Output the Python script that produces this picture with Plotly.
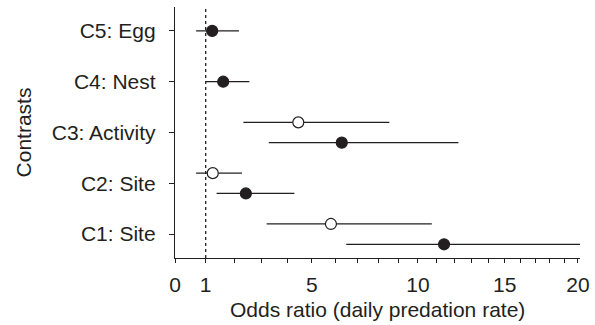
import numpy as np
import plotly.graph_objects as go

categories = ["C1: Site", "C2: Site", "C3: Activity", "C4: Nest", "C5: Egg"]
cat_pos = [1, 2, 3, 4, 5]

# filled (lower) series
filled_cat = ["C1: Site", "C2: Site", "C3: Activity", "C4: Nest", "C5: Egg"]
filled_or = [11.41, 2.41, 6.30, 1.60, 1.22]
filled_lo = [6.50, 1.37, 3.27, 1.00, 0.68]
filled_hi = [20.15, 4.28, 12.22, 2.54, 2.16]
filled_off = [-0.2, -0.2, -0.2, 0.0, 0.0]

# open (upper) series
open_cat = ["C1: Site", "C2: Site", "C3: Activity"]
open_or = [5.82, 1.24, 4.44]
open_lo = [3.19, 0.68, 2.32]
open_hi = [10.74, 2.27, 8.54]
open_off = [0.2, 0.2, 0.2]

x_ticks = list(range(0, 21))
x_tick_labels = {0: "0", 1: "1", 5: "5", 10: "10", 15: "15", 20: "20"}

C = 15.0
def tr(v):
    return np.log10(np.asarray(v, dtype=float) + C)

pos = dict(zip(categories, cat_pos))
FONT = "Liberation Sans, Arial, sans-serif"
INK = "#231f20"
FS = 21

fig = go.Figure()

def add_series(cats, orv, lo, hi, off, filled):
    xc = tr(orv)
    ys = [pos[c] + o for c, o in zip(cats, off)]
    fig.add_trace(go.Scatter(
        x=xc, y=ys, mode="markers",
        marker=dict(size=11, color=INK if filled else "white",
                    line=dict(color=INK, width=1.2), symbol="circle"),
        error_x=dict(type="data", symmetric=False,
                     array=tr(hi) - xc, arrayminus=xc - tr(lo),
                     color=INK, thickness=1.2, width=0),
        showlegend=False, hoverinfo="skip"))

# reference line at odds ratio 1
fig.add_shape(type="line", xref="x", yref="paper",
              x0=float(tr(1)), x1=float(tr(1)), y0=0, y1=1,
              line=dict(color=INK, width=1.3, dash="dot"), layer="below")

add_series(open_cat, open_or, open_lo, open_hi, open_off, False)
add_series(filled_cat, filled_or, filled_lo, filled_hi, filled_off, True)

fig.add_annotation(text="Odds ratio (daily predation rate)", xref="paper", yref="paper",
                   x=0.5, y=-0.207, xanchor="center", yanchor="middle",
                   showarrow=False, font=dict(size=FS, color=INK, family=FONT))
fig.add_annotation(text="Contrasts", xref="paper", yref="paper",
                   x=-0.373, y=0.5, xanchor="center", yanchor="middle", textangle=-90,
                   showarrow=False, font=dict(size=FS, color=INK, family=FONT))

fig.update_layout(
    width=595, height=325,
    margin=dict(l=175, r=15, t=7, b=67),
    paper_bgcolor="white", plot_bgcolor="white",
    font=dict(family=FONT, size=FS, color=INK),
    hovermode=False,
    xaxis=dict(range=[float(tr(0)), float(tr(20.15))], automargin=False,
               tickmode="array", tickvals=list(tr(x_ticks)),
               ticktext=[x_tick_labels.get(t, "") for t in x_ticks],
               ticks="outside", ticklen=4, tickwidth=1, tickcolor=INK,
               ticklabelstandoff=4,
               showline=True, linecolor=INK, linewidth=1.2,
               showgrid=False, zeroline=False),
    yaxis=dict(range=[0.53, 5.47], automargin=False,
               tickmode="array", tickvals=cat_pos, ticktext=categories,
               ticks="outside", ticklen=5, tickwidth=1, tickcolor=INK,
               ticklabelstandoff=9,
               showline=True, linecolor=INK, linewidth=1.2,
               showgrid=False, zeroline=False),
)

fig.write_html(
    "out.html",
    config={"displayModeBar": False, "staticPlot": True},
    post_script="document.body.style.margin='0';document.body.style.overflow='hidden';",
)
